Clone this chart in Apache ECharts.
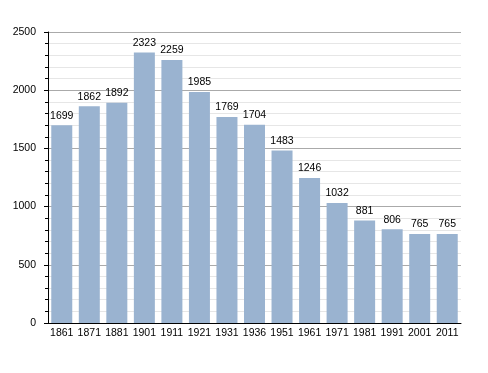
<!DOCTYPE html>
<html>
<head>
<meta charset="utf-8">
<script src="https://cdn.jsdelivr.net/npm/echarts@6/dist/echarts.min.js"></script>
<style>
html,body{margin:0;padding:0;background:#fff;}
#chart{width:488px;height:373px;}
</style>
</head>
<body>
<div id="chart"></div>
<script>
const categories = ['1861','1871','1881','1901','1911','1921','1931','1936','1951','1961','1971','1981','1991','2001','2011'];
const population = [1699,1862,1892,2323,2259,1985,1769,1704,1483,1246,1032,881,806,765,765];

const chart = echarts.init(document.getElementById('chart'), null, {renderer:'canvas'});
chart.setOption({
  animation: false,
  backgroundColor: '#ffffff',
  grid: {left: 48, top: 32, width: 413, height: 291, containLabel: false},
  xAxis: {
    type: 'category',
    data: categories,
    boundaryGap: true,
    axisLine: {show: true, lineStyle: {color: '#000', width: 1}},
    axisTick: {show: false},
    axisLabel: {color: '#000', fontSize: 10.5, fontFamily: 'Liberation Sans, Arial, sans-serif', margin: 5, interval: 0}
  },
  yAxis: {
    type: 'value',
    min: 0, max: 2500, interval: 500,
    axisLine: {show: true, lineStyle: {color: '#000', width: 1}},
    axisTick: {show: true, inside: false, length: 4, lineStyle: {color: '#000'}},
    minorTick: {show: true, splitNumber: 5, length: 3, lineStyle: {color: '#000'}},
    splitLine: {show: true, lineStyle: {color: '#aaaaaa', width: 1}},
    minorSplitLine: {show: true, lineStyle: {color: '#e6e6e6', width: 1}},
    axisLabel: {color: '#000', fontSize: 10.5, fontFamily: 'Liberation Sans, Arial, sans-serif', margin: 12, formatter: v => String(v)}
  },
  series: [{
    type: 'bar',
    data: population,
    barWidth: 21,
    itemStyle: {color: '#9ab3d0'},
    label: {show: true, position: 'top', distance: 4, color: '#000', fontSize: 10.5, fontFamily: 'Liberation Sans, Arial, sans-serif'}
  }]
});
</script>
</body>
</html>
